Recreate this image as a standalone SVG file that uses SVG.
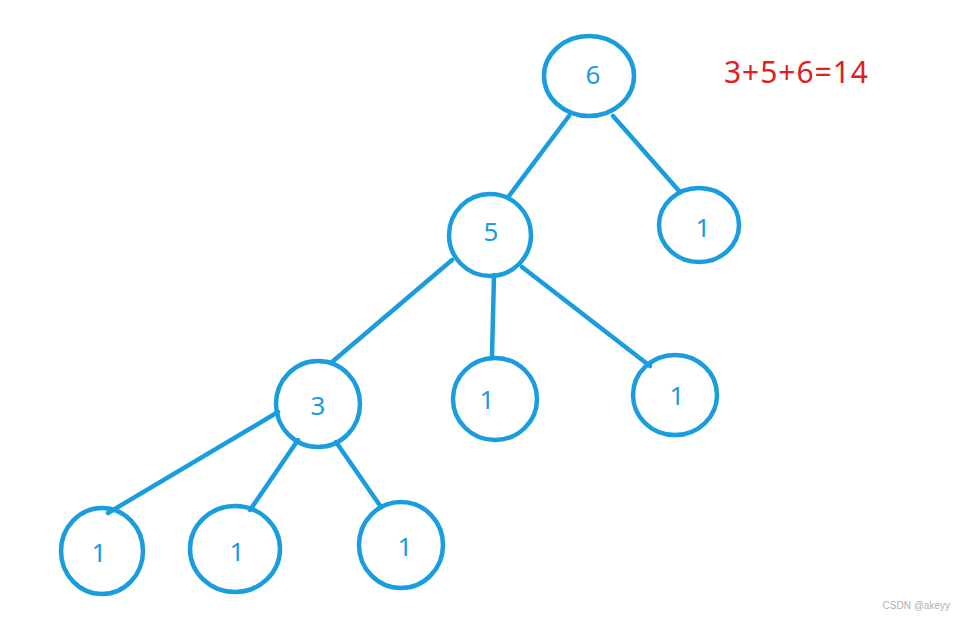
<svg xmlns="http://www.w3.org/2000/svg" width="966" height="620" viewBox="0 0 966 620">
<style>
.n ellipse{fill:none;stroke:#199ddf;stroke-width:4.5}
.n text{fill:#199ddf;font-family:"Noto Sans","Open Sans",sans-serif;font-size:26px;text-anchor:middle}
#edges line{stroke:#199ddf;stroke-width:4.5;stroke-linecap:round}
</style>
<rect width="966" height="620" fill="#ffffff"/>
<g id="edges">
<line x1="569" y1="116" x2="509" y2="196"/>
<line x1="613" y1="116" x2="680" y2="192"/>
<line x1="452" y1="260" x2="332" y2="362"/>
<line x1="494" y1="275" x2="492" y2="356"/>
<line x1="522" y1="267" x2="650" y2="366"/>
<line x1="278" y1="412" x2="108" y2="513"/>
<line x1="298" y1="440" x2="250" y2="510"/>
<line x1="336" y1="442" x2="381" y2="507"/>
</g>
<g id="n6" class="n"><ellipse cx="589" cy="76" rx="45" ry="40"/><text x="593" y="84">6</text></g>
<g id="n5" class="n"><ellipse cx="490" cy="235" rx="41" ry="41"/><text x="491" y="241">5</text></g>
<g id="n1a" class="n"><ellipse cx="699" cy="225" rx="40" ry="37"/><text x="703" y="237">1</text></g>
<g id="n3" class="n"><ellipse cx="318" cy="404" rx="42" ry="43"/><text x="318" y="415">3</text></g>
<g id="n1b" class="n"><ellipse cx="495" cy="399" rx="42" ry="41"/><text x="487" y="409">1</text></g>
<g id="n1c" class="n"><ellipse cx="675" cy="395" rx="42" ry="40"/><text x="677" y="405">1</text></g>
<g id="n1d" class="n"><ellipse cx="102" cy="551" rx="41" ry="43"/><text x="99" y="562">1</text></g>
<g id="n1e" class="n"><ellipse cx="235" cy="549" rx="45" ry="43"/><text x="237" y="561">1</text></g>
<g id="n1f" class="n"><ellipse cx="401" cy="545" rx="42" ry="43"/><text x="405" y="556">1</text></g>
<text x="724" y="83" fill="#e02020" font-family="Noto Sans,Open Sans,sans-serif" font-size="30" textLength="144">3+5+6=14</text>
<text x="950" y="609" fill="#b0b0b0" font-family="Liberation Sans,sans-serif" font-size="10" text-anchor="end">CSDN @akeyy</text>
</svg>
